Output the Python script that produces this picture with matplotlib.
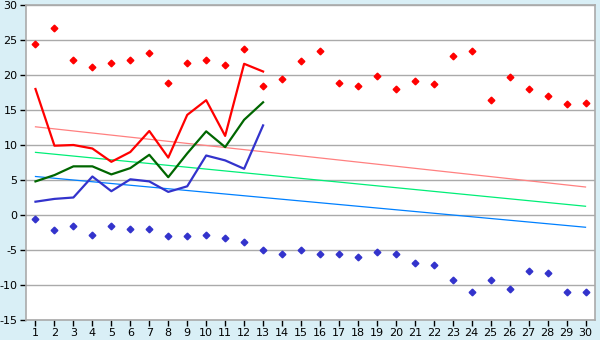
import matplotlib
matplotlib.use("Agg")
import matplotlib.pyplot as plt

plt.rcParams["axes.unicode_minus"] = False

days = list(range(1, 31))
max_records = [24.4, 26.7, 22.1, 21.1, 21.7, 22.2, 23.2, 18.8, 21.7, 22.1,
               21.4, 23.7, 18.4, 19.4, 22.0, 23.4, 18.8, 18.4, 19.8, 18.0,
               19.1, 18.7, 22.7, 23.4, 16.4, 19.7, 18.0, 17.0, 15.8, 16.0]
min_records = [-0.6, -2.2, -1.6, -2.8, -1.6, -2.0, -2.0, -3.0, -3.0, -2.8,
               -3.3, -3.9, -5.0, -5.6, -5.0, -5.6, -5.6, -6.0, -5.3, -5.6,
               -6.9, -7.2, -9.3, -11.0, -9.3, -10.6, -8.0, -8.3, -11.0, -11.0]
obs_days = list(range(1, 14))
tmax = [18.0, 9.9, 10.0, 9.5, 7.6, 9.0, 12.0, 8.2, 14.3, 16.4, 11.3, 21.6, 20.5]
tmean = [4.8, 5.7, 6.95, 6.95, 5.8, 6.7, 8.6, 5.4, 8.8, 11.95, 9.7, 13.6, 16.1]
tmin = [1.9, 2.3, 2.5, 5.5, 3.4, 5.1, 4.8, 3.3, 4.1, 8.5, 7.8, 6.6, 12.8]
trend_days = [1, 30]
normal_max = [12.6, 4.0]
normal_mean = [8.95, 1.25]
normal_min = [5.5, -1.75]
yticks = list(range(-15, 31, 5))

bg = "#d9eff6"
fig = plt.figure(figsize=(6, 3.4), dpi=100, facecolor=bg)
ax = fig.add_axes([26/600, 1-320/340, (595-26)/600, (320-5)/340])
ax.set_facecolor("white")

for y in yticks:
    ax.axhline(y, color="#aaaaaa", lw=1, zorder=1)

ax.plot(trend_days, normal_max, color="#ff8080", lw=0.9, zorder=2)
ax.plot(trend_days, normal_mean, color="#00ee77", lw=0.9, zorder=2)
ax.plot(trend_days, normal_min, color="#0080ff", lw=0.9, zorder=2)

ax.plot(obs_days, tmax, color="#ff0000", lw=1.6, zorder=3)
ax.plot(obs_days, tmean, color="#006600", lw=1.6, zorder=3)
ax.plot(obs_days, tmin, color="#3333cc", lw=1.6, zorder=3)

ax.plot(days, max_records, ls="none", marker="D", ms=3.4, color="#ff0000", zorder=4)
ax.plot(days, min_records, ls="none", marker="D", ms=3.4, color="#3333cc", zorder=4)

ax.set_xlim(0.5, 30.5)
ax.set_ylim(-15, 30)
ax.set_xticks(days)
ax.set_yticks(yticks)
ax.tick_params(axis="both", labelsize=8, color="black", length=4, width=1, pad=2)
for s in ["left", "bottom", "top", "right"]:
    ax.spines[s].set_color("#aaaaaa")
    ax.spines[s].set_linewidth(1.2)

fig.savefig("out.png", dpi=100, facecolor=bg)
